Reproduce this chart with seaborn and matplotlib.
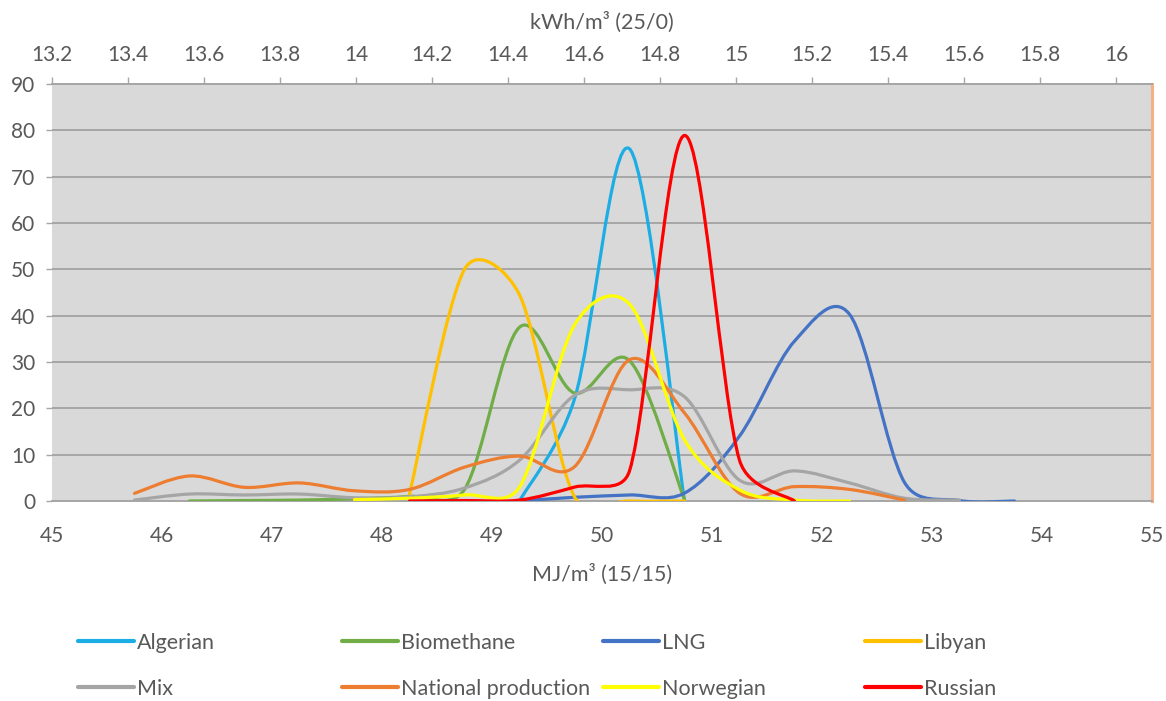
import numpy as np
import pandas as pd
import matplotlib
matplotlib.use("Agg")
import matplotlib.pyplot as plt
import seaborn as sns
from matplotlib.path import Path
from matplotlib.patches import PathPatch
from matplotlib.lines import Line2D

nan = np.nan

# Wobbe index class centres, MJ/m3 (15/15)
mj_points = [45.75, 46.25, 46.75, 47.25, 47.75, 48.25, 48.75, 49.25, 49.75,
             50.25, 50.75, 51.25, 51.75, 52.25, 52.75, 53.25, 53.75]

algerian   = [nan, nan, nan, nan, nan, nan, nan, 0.0, 22.0, 76.0, 0.0, nan, nan, nan, nan, nan, nan]
biomethane = [nan, 0.0, 0.1, 0.2, 0.5, 1.0, 2.5, 37.5, 23.3, 30.3, 0.3, nan, nan, nan, nan, nan, nan]
lng        = [nan, nan, nan, nan, nan, nan, nan, 0.0, 0.8, 1.3, 1.7, 14.0, 34.5, 40.3, 4.0, 0.1, 0.0]
libyan     = [nan, nan, nan, nan, nan, 1.5, 50.0, 44.5, 0.9, 0.0, 0.0, nan, nan, nan, nan, nan, nan]
mix        = [0.2, 1.5, 1.3, 1.5, 0.7, 0.9, 2.8, 8.8, 22.8, 24.0, 22.5, 4.5, 6.5, 3.9, 0.6, 0.2, nan]
national   = [1.65, 5.4, 2.95, 3.9, 2.2, 2.5, 7.3, 9.7, 7.4, 30.5, 19.0, 1.7, 3.1, 2.5, 0.2, nan, nan]
norwegian  = [nan, nan, nan, nan, 0.3, 0.6, 1.3, 3.0, 38.0, 42.5, 13.2, 2.4, 0.2, 0.0, nan, nan, nan]
russian    = [nan, nan, nan, nan, nan, 0.0, 0.1, 0.2, 3.0, 6.5, 78.9, 8.8, 0.0, nan, nan, nan, nan]

series_names = ["Algerian", "Biomethane", "LNG", "Libyan", "Mix",
                "National production", "Norwegian", "Russian"]
series_values = [algerian, biomethane, lng, libyan, mix, national, norwegian, russian]
series_colors = ["#1CADE4", "#70AD47", "#4472C4", "#FFC000", "#A5A5A5",
                 "#ED7D31", "#FFFF00", "#FF0000"]

y_ticks = [0, 10, 20, 30, 40, 50, 60, 70, 80, 90]
x_ticks = [45, 46, 47, 48, 49, 50, 51, 52, 53, 54, 55]
top_ticks = [13.2, 13.4, 13.6, 13.8, 14.0, 14.2, 14.4, 14.6, 14.8, 15.0,
             15.2, 15.4, 15.6, 15.8, 16.0]

rows = []
for name, vals in zip(series_names, series_values):
    for x, v in zip(mj_points, vals):
        if not np.isnan(v):
            rows.append({"mj": x, "value": v, "series": name})
df = pd.DataFrame(rows)

sns.set_theme(style="white")
plt.rcParams["font.family"] = ["Lato", "DejaVu Sans"]

W, H = 1166, 701
fig = plt.figure(figsize=(W / 100, H / 100), dpi=100)
ax = fig.add_axes([52 / W, 1 - 501 / H, 1100 / W, 417 / H])

text_col = "#595959"
grid_col = "#A6A6A6"

sns.lineplot(data=df, x="mj", y="value", hue="series", hue_order=series_names,
             palette=series_colors, estimator=None, sort=True, legend=False,
             linewidth=2.3, ax=ax)
ax.set_xlim(45, 55)
ax.set_ylim(0, 90)


def excel_smooth(xy_data, trans, clamp=0.45):
    """Catmull-Rom style Bezier smoothing (screen space) with limited overshoot."""
    xy = trans.transform(xy_data)
    n = len(xy)
    verts = [xy[0]]
    codes = [Path.MOVETO]

    def ctrl(i, side):
        # side = +1 -> control point after point i, -1 -> before point i
        prev = xy[i - 1] if i > 0 else xy[i]
        nxt = xy[i + 1] if i + 1 < n else xy[i]
        off = (nxt - prev) / 6.0
        adj = xy[i + 1] if side > 0 else xy[i - 1]
        chord = np.hypot(*(adj - xy[i]))
        L = np.hypot(*off)
        if L > clamp * chord and L > 0:
            off = off * clamp * chord / L
        return xy[i] + side * off

    for i in range(n - 1):
        verts += [ctrl(i, +1), ctrl(i + 1, -1), xy[i + 1]]
        codes += [Path.CURVE4] * 3
    verts = trans.inverted().transform(np.array(verts))
    return Path(verts, codes)


# replace seaborn's straight segments by Excel-like smoothed curves
lines = list(ax.lines)
for k, (line, color) in enumerate(zip(lines, series_colors)):
    xy = np.asarray(line.get_xydata(), dtype=float)
    patch = PathPatch(excel_smooth(xy, ax.transData), facecolor="none",
                      edgecolor=color, lw=2.3, capstyle="round",
                      joinstyle="round", zorder=3 + k * 0.01)
    ax.add_patch(patch)
    line.remove()

ax.set_facecolor("#D9D9D9")
ax.set_xticks(x_ticks)
ax.set_yticks(y_ticks)
ax.set_xticklabels([str(t) for t in x_ticks])
ax.set_yticklabels([str(t) for t in y_ticks])
ax.grid(axis="y", color=grid_col, lw=1.4)
ax.grid(axis="x", visible=False)
ax.set_axisbelow(True)
ax.tick_params(axis="x", length=0, pad=18, labelsize=15, labelcolor=text_col)
ax.tick_params(axis="y", length=4, width=1, color=grid_col, direction="out",
               pad=8, labelsize=15, labelcolor=text_col, left=True)
ax.set_xlabel("MJ/m³ (15/15)", fontsize=15.5, color=text_col, labelpad=13)
ax.set_ylabel("")
ax.spines["left"].set_visible(False)
ax.spines["bottom"].set_color(grid_col)
ax.spines["bottom"].set_linewidth(1.4)
ax.spines["top"].set_color(grid_col)
ax.spines["top"].set_linewidth(1.4)
ax.spines["right"].set_color("#F4B183")
ax.spines["right"].set_linewidth(2.2)

ax2 = ax.twiny()
ax2.set_xlim(13.2, 13.2 + 1100 / 380)
ax2.set_xticks(top_ticks)
ax2.set_xticklabels([f"{t:g}" for t in top_ticks])
ax2.tick_params(axis="x", direction="out", length=5, width=1, color=grid_col,
                labelsize=15, labelcolor=text_col, pad=9)
ax2.set_xlabel("kWh/m³ (25/0)", fontsize=15.5, color=text_col, labelpad=11)
for s in ["left", "right", "bottom"]:
    ax2.spines[s].set_visible(False)
ax2.spines["top"].set_color(grid_col)
ax2.spines["top"].set_linewidth(1.4)

# legend: 4 columns of equal width, 2 rows
col_x = [78, 342, 603, 865]
for c in range(4):
    handles, labels = [], []
    for r in range(2):
        i = c + 4 * r
        handles.append(Line2D([0], [0], color=series_colors[i], lw=3))
        labels.append(series_names[i])
    fig.legend(handles, labels, loc="upper left",
               bbox_to_anchor=(col_x[c] / W, 1 - 633 / H),
               frameon=False, fontsize=15.5, labelcolor=text_col,
               handlelength=2.6, handletextpad=0.15, borderpad=0,
               borderaxespad=0, labelspacing=1.2)

fig.savefig("out.png", dpi=100)
